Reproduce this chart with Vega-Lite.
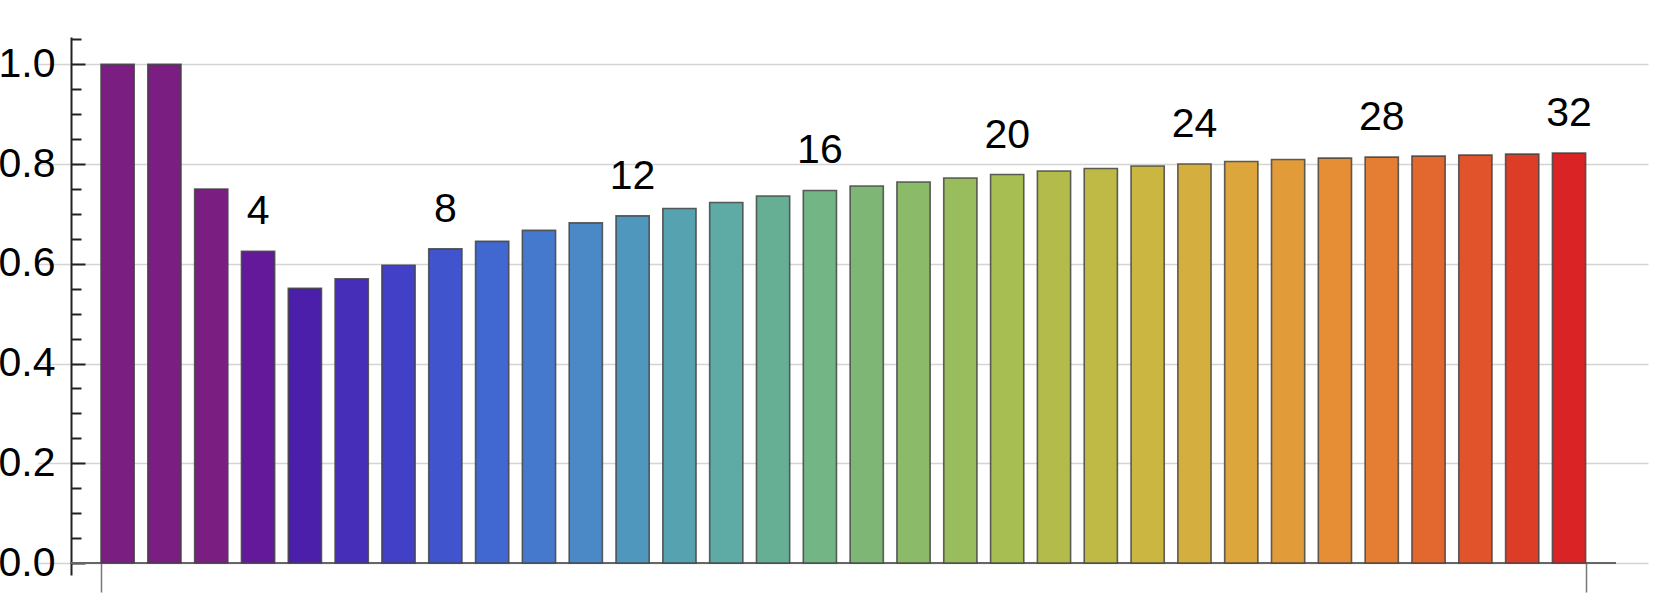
{
  "$schema": "https://vega.github.io/schema/vega-lite/v6.json",
  "width": 1610,
  "height": 538,
  "autosize": {"type": "none"},
  "padding": {"left": 38, "top": 37, "right": 13, "bottom": 26},
  "background": "white",
  "config": {"view": {"stroke": null}},
  "data": {
    "values": [
      {"n": 1, "v": 1.0}, {"n": 2, "v": 1.0}, {"n": 3, "v": 0.75}, {"n": 4, "v": 0.625},
      {"n": 5, "v": 0.551}, {"n": 6, "v": 0.570}, {"n": 7, "v": 0.597}, {"n": 8, "v": 0.630},
      {"n": 9, "v": 0.645}, {"n": 10, "v": 0.667}, {"n": 11, "v": 0.682}, {"n": 12, "v": 0.696},
      {"n": 13, "v": 0.711}, {"n": 14, "v": 0.723}, {"n": 15, "v": 0.736}, {"n": 16, "v": 0.747},
      {"n": 17, "v": 0.756}, {"n": 18, "v": 0.764}, {"n": 19, "v": 0.772}, {"n": 20, "v": 0.779},
      {"n": 21, "v": 0.786}, {"n": 22, "v": 0.791}, {"n": 23, "v": 0.796}, {"n": 24, "v": 0.800},
      {"n": 25, "v": 0.805}, {"n": 26, "v": 0.809}, {"n": 27, "v": 0.812}, {"n": 28, "v": 0.814},
      {"n": 29, "v": 0.816}, {"n": 30, "v": 0.818}, {"n": 31, "v": 0.820}, {"n": 32, "v": 0.822}
    ]
  },
  "resolve": {"axis": {"y": "independent"}},
  "layer": [
    {
      "mark": {"type": "rule", "color": "#666666", "strokeWidth": 1.8},
      "encoding": {
        "x": {"datum": 0, "type": "quantitative", "scale": {"domain": [-0.7, 33.687], "nice": false, "zero": false, "padding": 0},
              "axis": {"orient": "bottom", "values": [0.6455, 32.3545], "domain": false, "labels": false, "grid": false, "ticks": true, "tickSize": 29, "tickColor": "#777777", "tickWidth": 1.5, "offset": -12, "title": null}},
        "x2": {"datum": 33},
        "y": {"datum": 0, "type": "quantitative", "scale": {"domain": [-0.02406, 1.0548], "nice": false, "zero": false},
              "axis": {"orient": "left", "values": [0.05, 0.1, 0.15, 0.25, 0.3, 0.35, 0.45, 0.5, 0.55, 0.65, 0.7, 0.75, 0.85, 0.9, 0.95, 1.05], "domain": false, "labels": false, "grid": false, "ticks": true, "tickSize": -10, "tickWidth": 2, "tickColor": "#222222", "offset": -33, "title": null}}
      }
    },
    {
      "mark": {"type": "bar", "width": 33.2, "stroke": "#444444", "strokeWidth": 1.6, "strokeOpacity": 0.85},
      "encoding": {
        "x": {"field": "n", "type": "quantitative", "scale": {"domain": [-0.7, 33.687], "nice": false, "zero": false, "padding": 0},
              "axis": {"orient": "bottom", "values": [0.6455, 32.3545], "domain": false, "labels": false, "grid": false, "ticks": true, "tickSize": 29, "tickColor": "#777777", "tickWidth": 1.5, "offset": -12, "title": null}},
        "y": {"field": "v", "type": "quantitative", "scale": {"domain": [-0.02406, 1.0548], "nice": false, "zero": false},
              "axis": {"orient": "left", "values": [0, 0.2, 0.4, 0.6, 0.8, 1.0], "format": ".1f", "grid": true, "gridColor": "#d4d4d4", "gridWidth": 1.3, "domain": false, "ticks": false, "labels": true, "labelFont": "Liberation Sans", "labelFontSize": 41, "labelColor": "#000000", "labelPadding": 16, "offset": -33, "title": null}},
        "color": {
          "field": "n", "type": "ordinal", "legend": null,
          "scale": {
            "domain": [1,2,3,4,5,6,7,8,9,10,11,12,13,14,15,16,17,18,19,20,21,22,23,24,25,26,27,28,29,30,31,32],
            "range": ["#7A1E82","#7A1E82","#7A1E82","#63199A","#4C1FAA","#462EB9","#4140C6","#4055CD","#4168D0","#4579CD","#4A89C5","#5097BD","#56A2B1","#5EAAA4","#67AF94","#73B585","#7EB775","#8BBA69","#99BD5D","#A7BE53","#B3BC4B","#BFBA46","#CBB642","#D4AF3F","#DCA63C","#E29B39","#E58E36","#E57E33","#E3682F","#E1532B","#DD3D27","#DA2324"]
          }
        }
      }
    },
    {
      "transform": [{"filter": "datum.n % 4 == 0"}],
      "mark": {"type": "text", "dy": -27, "baseline": "alphabetic", "align": "center", "font": "Liberation Sans", "fontSize": 41, "color": "#000000"},
      "encoding": {
        "x": {"field": "n", "type": "quantitative", "scale": {"domain": [-0.7, 33.687], "nice": false, "zero": false, "padding": 0},
              "axis": {"orient": "bottom", "values": [0.6455, 32.3545], "domain": false, "labels": false, "grid": false, "ticks": true, "tickSize": 29, "tickColor": "#777777", "tickWidth": 1.5, "offset": -12, "title": null}},
        "y": {"field": "v", "type": "quantitative", "scale": {"domain": [-0.02406, 1.0548], "nice": false, "zero": false},
              "axis": {"orient": "left", "values": [0, 0.2, 0.4, 0.6, 0.8, 1.0], "domain": true, "domainColor": "#222222", "domainWidth": 2, "ticks": true, "tickSize": -14, "tickWidth": 2, "tickColor": "#222222", "labels": false, "grid": false, "offset": -33, "title": null}},
        "text": {"field": "n", "type": "quantitative"}
      }
    }
  ]
}
